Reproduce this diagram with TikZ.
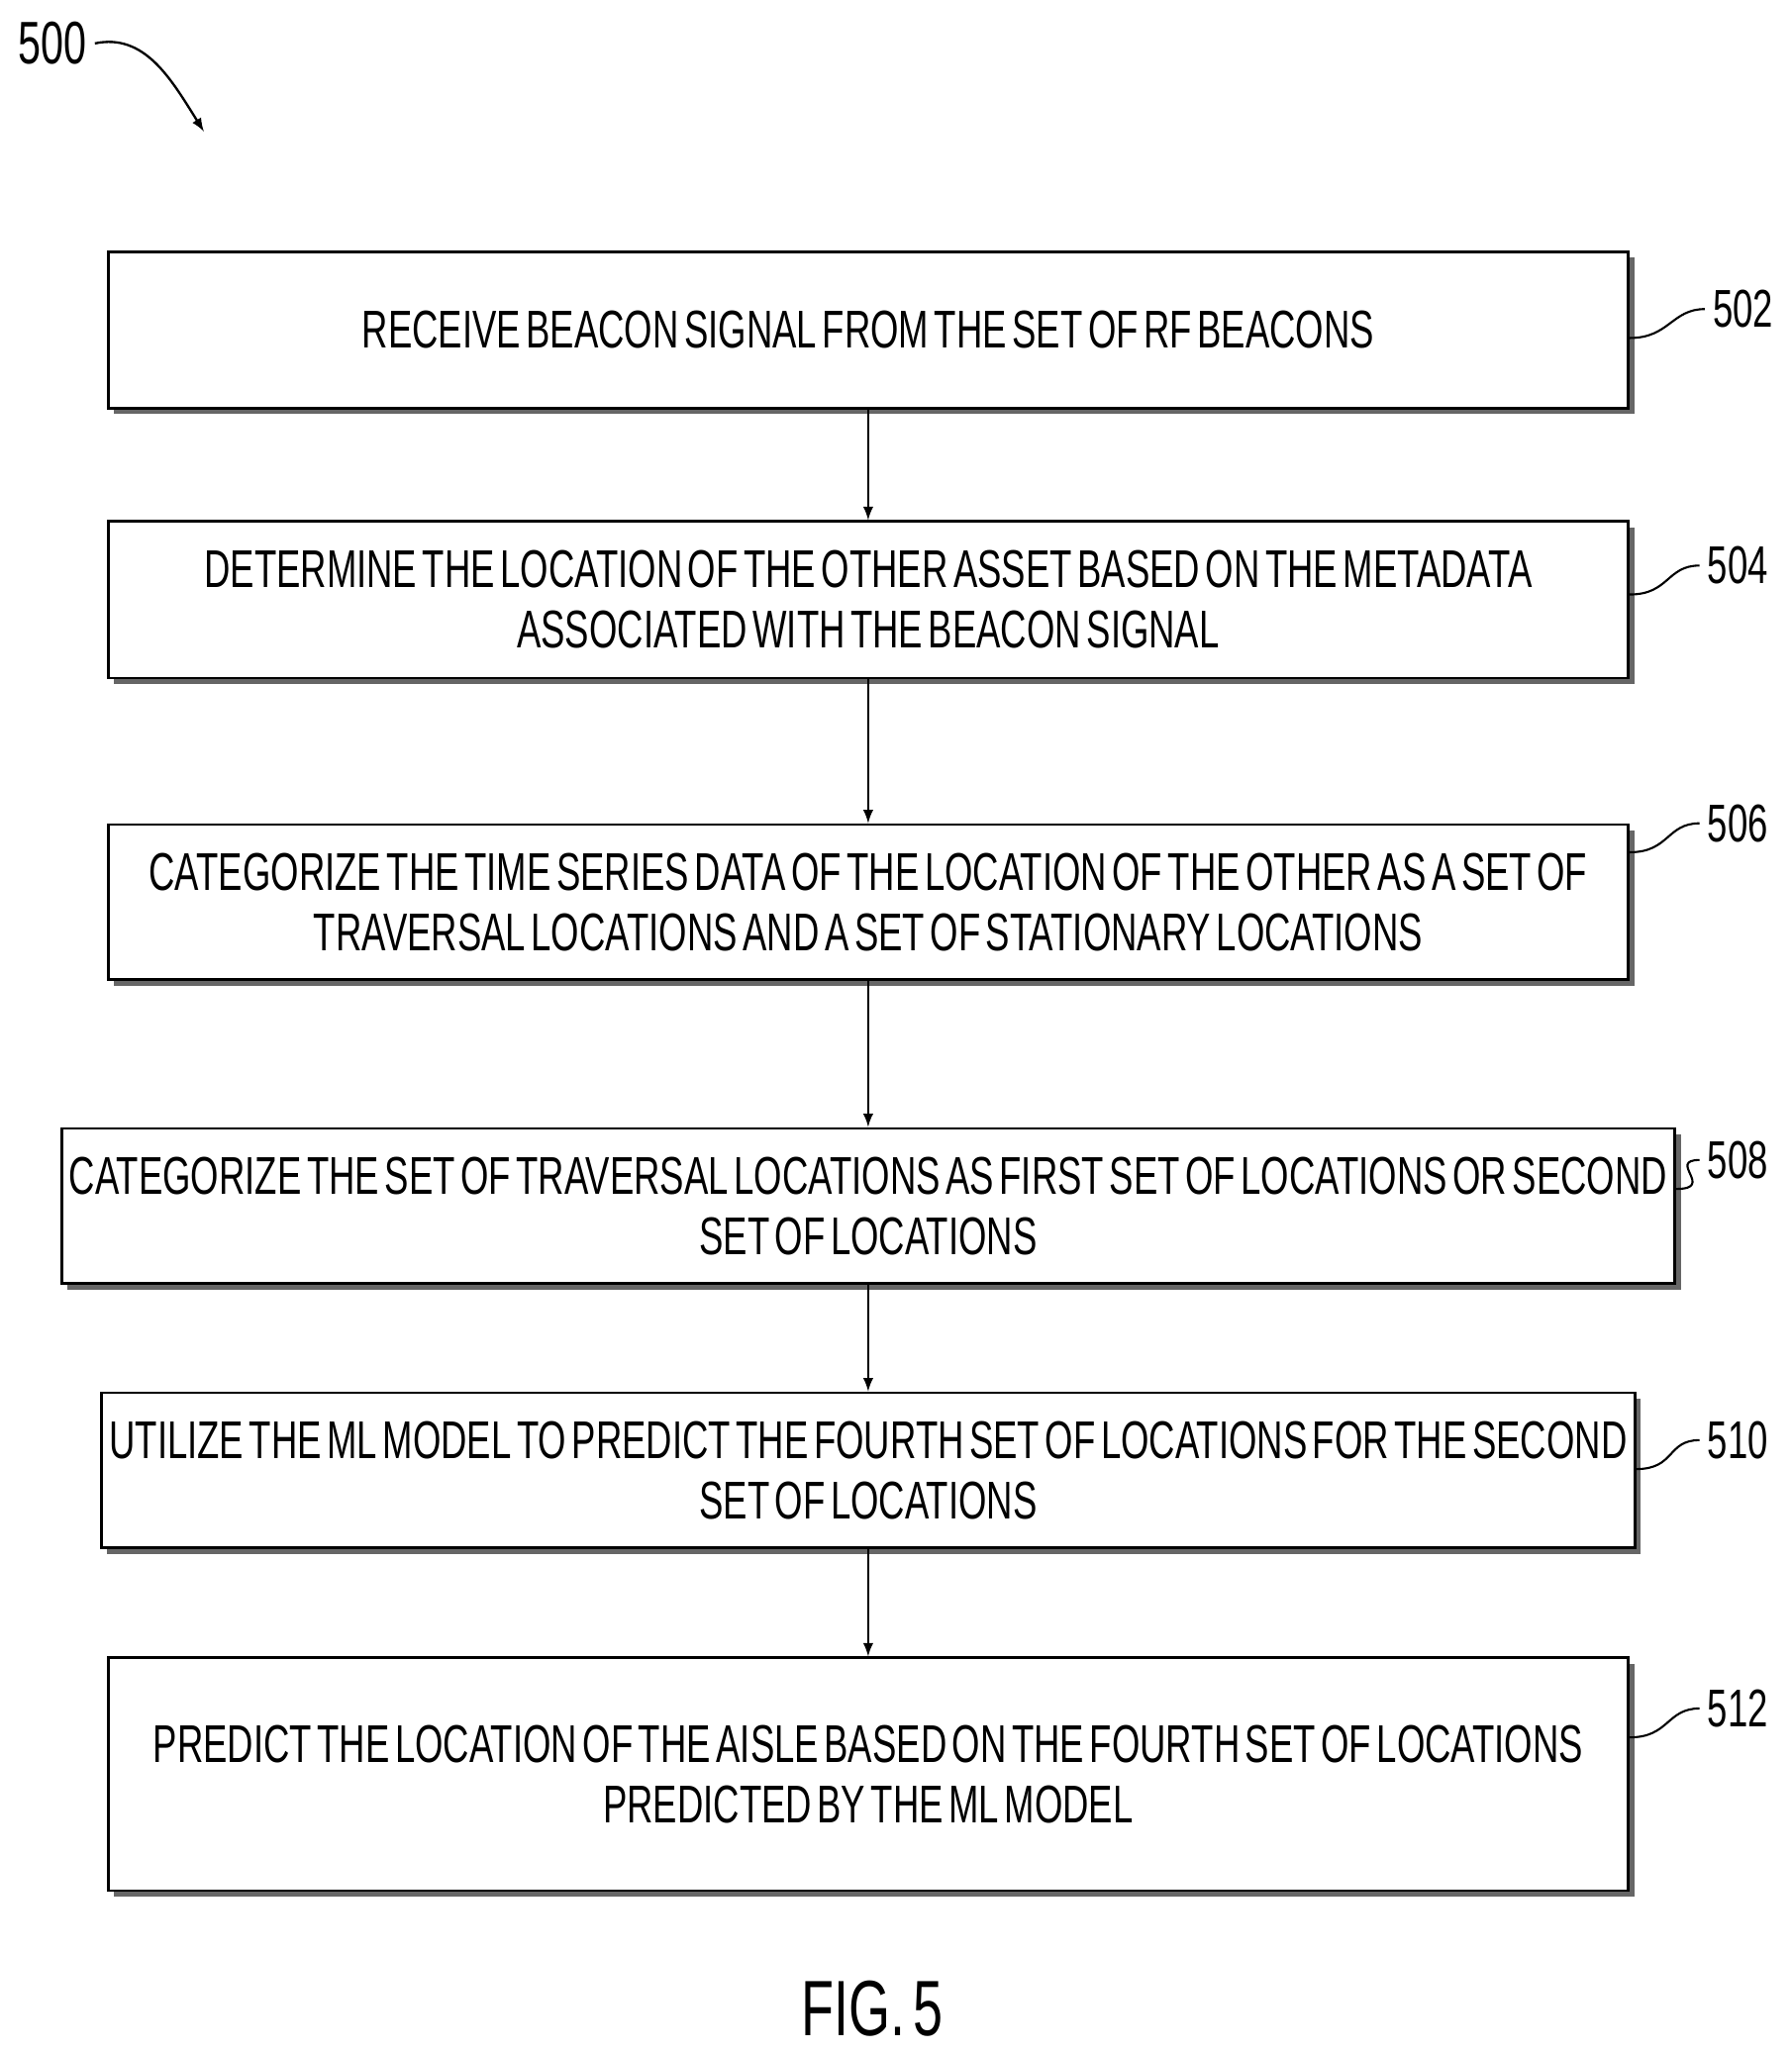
\documentclass[tikz,border=0pt]{standalone}
\usepackage{fontspec}
\setmainfont{Liberation Sans}[FakeStretch=0.68, WordSpace=0.55]
\usetikzlibrary{shadows, positioning, calc}
\tikzset{
    stepbox/.style={draw, line width=1.2pt, fill=white, minimum width=23.12cm, align=center, font=\fontsize{23}{26}\selectfont, drop shadow={shadow xshift=2.5pt, shadow yshift=-2.5pt, fill=black!60, opacity=1}},
    tag/.style={font=\fontsize{23}{25}\selectfont, anchor=west},
    flow/.style={->, >=latex, line width=1pt}
}
\begin{document}
\begin{tikzpicture}[x=0.02cm, y=-0.02cm]
    \useasboundingbox (0,0) rectangle (1362,1561);

    \node[stepbox, minimum height=2.38cm] (b502) at (660,251) {RECEIVE BEACON SIGNAL FROM THE SET OF RF BEACONS};
    \node[stepbox, minimum height=2.38cm] (b504) at (660,456) {DETERMINE THE LOCATION OF THE OTHER ASSET BASED ON THE METADATA\\ASSOCIATED WITH THE BEACON SIGNAL};
    \node[stepbox, minimum height=2.36cm] (b506) at (660,686) {CATEGORIZE THE TIME SERIES DATA OF THE LOCATION OF THE OTHER AS A SET OF\\TRAVERSAL LOCATIONS AND A SET OF STATIONARY LOCATIONS};
    \node[stepbox, minimum height=2.36cm] (b508) at (660,917) {CATEGORIZE THE SET OF TRAVERSAL LOCATIONS AS FIRST SET OF LOCATIONS OR SECOND\\SET OF LOCATIONS};
    \node[stepbox, minimum height=2.36cm] (b510) at (660,1118) {UTILIZE THE ML MODEL TO PREDICT THE FOURTH SET OF LOCATIONS FOR THE SECOND\\SET OF LOCATIONS};
    \node[stepbox, minimum height=3.54cm] (b512) at (660,1349) {PREDICT THE LOCATION OF THE AISLE BASED ON THE FOURTH SET OF LOCATIONS\\PREDICTED BY THE ML MODEL};

    % arrows between steps
    \draw[flow] (b502) -- (b504);
    \draw[flow] (b504) -- (b506);
    \draw[flow] (b506) -- (b508);
    \draw[flow] (b508) -- (b510);
    \draw[flow] (b510) -- (b512);

    % reference numerals
    \node[tag] (l502) at (1296,235) {502};
    \node[tag] (l504) at (1292,430) {504};
    \node[tag] (l506) at (1292,626) {506};
    \node[tag] (l508) at (1292,882) {508};
    \node[tag] (l510) at (1292,1095) {510};
    \node[tag] (l512) at (1292,1299) {512};
    \foreach \n in {502, 504, 506, 508, 510, 512}
        \draw[line width=0.9pt] ($(b\n.east |- l\n.west)+(0,22)$) .. controls +(30,0) and +(-25,0) .. (l\n.west);

    \node[font=\fontsize{26}{28}\selectfont] (n500) at (40,33) {500};
    \coordinate (t500) at (155,100);
    \draw[->, >=latex, line width=1pt] (n500.east) .. controls (110,25) and (130,60) .. (t500);

    \node[font=\fontsize{34}{36}\selectfont] (fig) at (663,1527) {FIG. 5};
\end{tikzpicture}
\end{document}
